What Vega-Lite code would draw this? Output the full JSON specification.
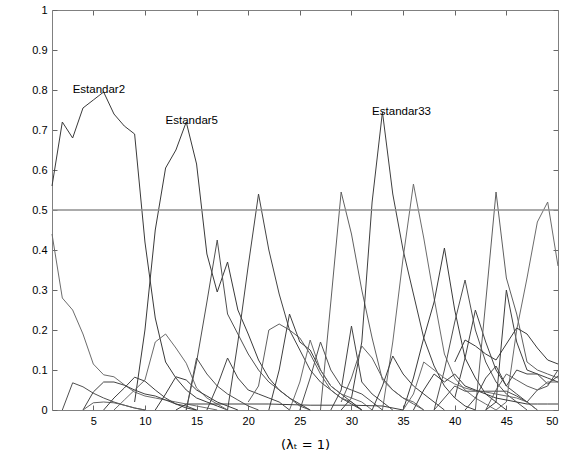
{
  "$schema": "https://vega.github.io/schema/vega-lite/v6.json",
  "width": 506,
  "height": 400,
  "autosize": "none",
  "padding": {"left": 52, "top": 10, "right": 8, "bottom": 52},
  "background": "white",
  "config": {
    "view": {"stroke": null},
    "axis": {
      "grid": false,
      "labelFont": "Liberation Sans",
      "labelFontSize": 11,
      "labelColor": "#000000",
      "tickColor": "#666666",
      "domainColor": "#808080",
      "tickSize": -5,
      "labelPadding": 10
    }
  },
  "layer": [
    {
      "data": {
        "values": [
          {"s":"A","x":1,"y":0.56},{"s":"A","x":2,"y":0.72},{"s":"A","x":3,"y":0.68},{"s":"A","x":4,"y":0.755},{"s":"A","x":5,"y":0.775},{"s":"A","x":6,"y":0.795},{"s":"A","x":7,"y":0.74},{"s":"A","x":8,"y":0.71},{"s":"A","x":9,"y":0.69},{"s":"A","x":10,"y":0.42},{"s":"A","x":11,"y":0.23},{"s":"A","x":12,"y":0.12},{"s":"A","x":13,"y":0.08},{"s":"A","x":14,"y":0.05},{"s":"A","x":15,"y":0.03},{"s":"A","x":16,"y":0.02},{"s":"A","x":17,"y":0.01},{"s":"A","x":18,"y":0},
          {"s":"B","x":1,"y":0.44},{"s":"B","x":2,"y":0.28},{"s":"B","x":3,"y":0.25},{"s":"B","x":4,"y":0.19},{"s":"B","x":5,"y":0.115},{"s":"B","x":6,"y":0.088},{"s":"B","x":7,"y":0.083},{"s":"B","x":8,"y":0.063},{"s":"B","x":9,"y":0.045},{"s":"B","x":10,"y":0.035},{"s":"B","x":11,"y":0.03},{"s":"B","x":12,"y":0.025},{"s":"B","x":13,"y":0.02},{"s":"B","x":14,"y":0.015},{"s":"B","x":15,"y":0.01},{"s":"B","x":16,"y":0.005},{"s":"B","x":17,"y":0},
          {"s":"C","x":9,"y":0.02},{"s":"C","x":10,"y":0.2},{"s":"C","x":11,"y":0.45},{"s":"C","x":12,"y":0.605},{"s":"C","x":13,"y":0.65},{"s":"C","x":14,"y":0.72},{"s":"C","x":15,"y":0.615},{"s":"C","x":16,"y":0.39},{"s":"C","x":17,"y":0.295},{"s":"C","x":18,"y":0.37},{"s":"C","x":19,"y":0.25},{"s":"C","x":20,"y":0.19},{"s":"C","x":21,"y":0.125},{"s":"C","x":22,"y":0.08},{"s":"C","x":23,"y":0.05},{"s":"C","x":24,"y":0.03},{"s":"C","x":25,"y":0.015},{"s":"C","x":26,"y":0},
          {"s":"D","x":14,"y":0},{"s":"D","x":15,"y":0.12},{"s":"D","x":16,"y":0.27},{"s":"D","x":17,"y":0.425},{"s":"D","x":18,"y":0.24},{"s":"D","x":19,"y":0.19},{"s":"D","x":20,"y":0.14},{"s":"D","x":21,"y":0.1},{"s":"D","x":22,"y":0.07},{"s":"D","x":23,"y":0.05},{"s":"D","x":24,"y":0.03},{"s":"D","x":25,"y":0.01},{"s":"D","x":26,"y":0},
          {"s":"E","x":18,"y":0},{"s":"E","x":19,"y":0.17},{"s":"E","x":20,"y":0.36},{"s":"E","x":21,"y":0.54},{"s":"E","x":22,"y":0.4},{"s":"E","x":23,"y":0.29},{"s":"E","x":24,"y":0.2},{"s":"E","x":25,"y":0.15},{"s":"E","x":26,"y":0.1},{"s":"E","x":27,"y":0.07},{"s":"E","x":28,"y":0.05},{"s":"E","x":29,"y":0.03},{"s":"E","x":30,"y":0.015},{"s":"E","x":31,"y":0},
          {"s":"F","x":27,"y":0},{"s":"F","x":28,"y":0.27},{"s":"F","x":29,"y":0.545},{"s":"F","x":30,"y":0.44},{"s":"F","x":31,"y":0.3},{"s":"F","x":32,"y":0.18},{"s":"F","x":33,"y":0.075},{"s":"F","x":34,"y":0.05},{"s":"F","x":35,"y":0.03},{"s":"F","x":36,"y":0.015},{"s":"F","x":37,"y":0},
          {"s":"G","x":29,"y":0},{"s":"G","x":30,"y":0.03},{"s":"G","x":31,"y":0.17},{"s":"G","x":32,"y":0.52},{"s":"G","x":33,"y":0.745},{"s":"G","x":34,"y":0.54},{"s":"G","x":35,"y":0.4},{"s":"G","x":36,"y":0.29},{"s":"G","x":37,"y":0.18},{"s":"G","x":38,"y":0.11},{"s":"G","x":39,"y":0.06},{"s":"G","x":40,"y":0.03},{"s":"G","x":41,"y":0.01},{"s":"G","x":42,"y":0},
          {"s":"H","x":33,"y":0},{"s":"H","x":34,"y":0.17},{"s":"H","x":35,"y":0.38},{"s":"H","x":36,"y":0.565},{"s":"H","x":37,"y":0.43},{"s":"H","x":38,"y":0.28},{"s":"H","x":39,"y":0.14},{"s":"H","x":40,"y":0.08},{"s":"H","x":41,"y":0.05},{"s":"H","x":42,"y":0.03},{"s":"H","x":43,"y":0.015},{"s":"H","x":44,"y":0},
          {"s":"I","x":35,"y":0},{"s":"I","x":36,"y":0.08},{"s":"I","x":37,"y":0.18},{"s":"I","x":38,"y":0.27},{"s":"I","x":39,"y":0.405},{"s":"I","x":40,"y":0.25},{"s":"I","x":41,"y":0.13},{"s":"I","x":42,"y":0.08},{"s":"I","x":43,"y":0.04},{"s":"I","x":44,"y":0.02},{"s":"I","x":45,"y":0},
          {"s":"J","x":38,"y":0},{"s":"J","x":39,"y":0.1},{"s":"J","x":40,"y":0.22},{"s":"J","x":41,"y":0.325},{"s":"J","x":42,"y":0.2},{"s":"J","x":43,"y":0.12},{"s":"J","x":44,"y":0.07},{"s":"J","x":45,"y":0.04},{"s":"J","x":46,"y":0.02},{"s":"J","x":47,"y":0},
          {"s":"K","x":40,"y":0.03},{"s":"K","x":41,"y":0.13},{"s":"K","x":42,"y":0.25},{"s":"K","x":43,"y":0.17},{"s":"K","x":44,"y":0.1},{"s":"K","x":45,"y":0.06},{"s":"K","x":46,"y":0.04},{"s":"K","x":47,"y":0.02},{"s":"K","x":48,"y":0},
          {"s":"L","x":42,"y":0},{"s":"L","x":43,"y":0.27},{"s":"L","x":44,"y":0.545},{"s":"L","x":45,"y":0.33},{"s":"L","x":46,"y":0.24},{"s":"L","x":47,"y":0.12},{"s":"L","x":48,"y":0.1},{"s":"L","x":49,"y":0.09},{"s":"L","x":50,"y":0.08},
          {"s":"M","x":43,"y":0},{"s":"M","x":44,"y":0.02},{"s":"M","x":45,"y":0.3},{"s":"M","x":46,"y":0.17},{"s":"M","x":47,"y":0.1},{"s":"M","x":48,"y":0.09},{"s":"M","x":49,"y":0.08},{"s":"M","x":50,"y":0.07},
          {"s":"N","x":44,"y":0},{"s":"N","x":45,"y":0.02},{"s":"N","x":46,"y":0.2},{"s":"N","x":47,"y":0.33},{"s":"N","x":48,"y":0.47},{"s":"N","x":49,"y":0.52},{"s":"N","x":50,"y":0.36},
          {"s":"O","x":40,"y":0.12},{"s":"O","x":41,"y":0.175},{"s":"O","x":42,"y":0.16},{"s":"O","x":43,"y":0.14},{"s":"O","x":44,"y":0.125},{"s":"O","x":45,"y":0.165},{"s":"O","x":46,"y":0.205},{"s":"O","x":47,"y":0.19},{"s":"O","x":48,"y":0.155},{"s":"O","x":49,"y":0.125},{"s":"O","x":50,"y":0.115},
          {"s":"P","x":2,"y":0},{"s":"P","x":3,"y":0.068},{"s":"P","x":4,"y":0.058},{"s":"P","x":5,"y":0.042},{"s":"P","x":6,"y":0.03},{"s":"P","x":7,"y":0.02},{"s":"P","x":8,"y":0.012},{"s":"P","x":9,"y":0.005},{"s":"P","x":10,"y":0},
          {"s":"Q","x":4,"y":0},{"s":"Q","x":5,"y":0.045},{"s":"Q","x":6,"y":0.07},{"s":"Q","x":7,"y":0.07},{"s":"Q","x":8,"y":0.062},{"s":"Q","x":9,"y":0.05},{"s":"Q","x":10,"y":0.04},{"s":"Q","x":11,"y":0.035},{"s":"Q","x":12,"y":0.025},{"s":"Q","x":13,"y":0.015},{"s":"Q","x":14,"y":0.01},{"s":"Q","x":15,"y":0},
          {"s":"R","x":4,"y":0},{"s":"R","x":5,"y":0.018},{"s":"R","x":6,"y":0.02},{"s":"R","x":7,"y":0.018},{"s":"R","x":8,"y":0.012},{"s":"R","x":9,"y":0.005},{"s":"R","x":10,"y":0},
          {"s":"S","x":6,"y":0},{"s":"S","x":7,"y":0.03},{"s":"S","x":8,"y":0.055},{"s":"S","x":9,"y":0.082},{"s":"S","x":10,"y":0.072},{"s":"S","x":11,"y":0.05},{"s":"S","x":12,"y":0.03},{"s":"S","x":13,"y":0.015},{"s":"S","x":14,"y":0.005},{"s":"S","x":15,"y":0},
          {"s":"T","x":7,"y":0},{"s":"T","x":8,"y":0.025},{"s":"T","x":9,"y":0.05},{"s":"T","x":10,"y":0.075},{"s":"T","x":11,"y":0.17},{"s":"T","x":12,"y":0.19},{"s":"T","x":13,"y":0.155},{"s":"T","x":14,"y":0.117},{"s":"T","x":15,"y":0.055},{"s":"T","x":16,"y":0.03},{"s":"T","x":17,"y":0.015},{"s":"T","x":18,"y":0},
          {"s":"U","x":11,"y":0},{"s":"U","x":12,"y":0.04},{"s":"U","x":13,"y":0.083},{"s":"U","x":14,"y":0.075},{"s":"U","x":15,"y":0.05},{"s":"U","x":16,"y":0.035},{"s":"U","x":17,"y":0.02},{"s":"U","x":18,"y":0.01},{"s":"U","x":19,"y":0},
          {"s":"V","x":14,"y":0},{"s":"V","x":15,"y":0.13},{"s":"V","x":16,"y":0.09},{"s":"V","x":17,"y":0.06},{"s":"V","x":18,"y":0.04},{"s":"V","x":19,"y":0.025},{"s":"V","x":20,"y":0.01},{"s":"V","x":21,"y":0},
          {"s":"W","x":16,"y":0},{"s":"W","x":17,"y":0.06},{"s":"W","x":18,"y":0.13},{"s":"W","x":19,"y":0.08},{"s":"W","x":20,"y":0.05},{"s":"W","x":21,"y":0.04},{"s":"W","x":22,"y":0.03},{"s":"W","x":23,"y":0.02},{"s":"W","x":24,"y":0},
          {"s":"X","x":20,"y":0.02},{"s":"X","x":21,"y":0.06},{"s":"X","x":22,"y":0.2},{"s":"X","x":23,"y":0.215},{"s":"X","x":24,"y":0.2},{"s":"X","x":25,"y":0.18},{"s":"X","x":26,"y":0.14},{"s":"X","x":27,"y":0.09},{"s":"X","x":28,"y":0.05},{"s":"X","x":29,"y":0.03},{"s":"X","x":30,"y":0.02},{"s":"X","x":31,"y":0},
          {"s":"Y","x":22,"y":0},{"s":"Y","x":23,"y":0.1},{"s":"Y","x":24,"y":0.24},{"s":"Y","x":25,"y":0.17},{"s":"Y","x":26,"y":0.15},{"s":"Y","x":27,"y":0.1},{"s":"Y","x":28,"y":0.06},{"s":"Y","x":29,"y":0.04},{"s":"Y","x":30,"y":0.02},{"s":"Y","x":31,"y":0},
          {"s":"Z","x":24,"y":0},{"s":"Z","x":25,"y":0.07},{"s":"Z","x":26,"y":0.175},{"s":"Z","x":27,"y":0.1},{"s":"Z","x":28,"y":0.06},{"s":"Z","x":29,"y":0.04},{"s":"Z","x":30,"y":0.03},{"s":"Z","x":31,"y":0.02},{"s":"Z","x":32,"y":0},
          {"s":"AA","x":25,"y":0},{"s":"AA","x":26,"y":0.08},{"s":"AA","x":27,"y":0.17},{"s":"AA","x":28,"y":0.1},{"s":"AA","x":29,"y":0.06},{"s":"AA","x":30,"y":0.05},{"s":"AA","x":31,"y":0.04},{"s":"AA","x":32,"y":0.02},{"s":"AA","x":33,"y":0},
          {"s":"AB","x":28,"y":0},{"s":"AB","x":29,"y":0.05},{"s":"AB","x":30,"y":0.21},{"s":"AB","x":31,"y":0.07},{"s":"AB","x":32,"y":0.04},{"s":"AB","x":33,"y":0.02},{"s":"AB","x":34,"y":0},
          {"s":"AC","x":29,"y":0.02},{"s":"AC","x":30,"y":0.08},{"s":"AC","x":31,"y":0.16},{"s":"AC","x":32,"y":0.13},{"s":"AC","x":33,"y":0.08},{"s":"AC","x":34,"y":0.05},{"s":"AC","x":35,"y":0.03},{"s":"AC","x":36,"y":0.02},{"s":"AC","x":37,"y":0},
          {"s":"AD","x":32,"y":0},{"s":"AD","x":33,"y":0.06},{"s":"AD","x":34,"y":0.135},{"s":"AD","x":35,"y":0.09},{"s":"AD","x":36,"y":0.06},{"s":"AD","x":37,"y":0.04},{"s":"AD","x":38,"y":0.02},{"s":"AD","x":39,"y":0},
          {"s":"AE","x":35,"y":0},{"s":"AE","x":36,"y":0.04},{"s":"AE","x":37,"y":0.12},{"s":"AE","x":38,"y":0.1},{"s":"AE","x":39,"y":0.08},{"s":"AE","x":40,"y":0.065},{"s":"AE","x":41,"y":0.055},{"s":"AE","x":42,"y":0.048},{"s":"AE","x":43,"y":0.045},{"s":"AE","x":44,"y":0.04},{"s":"AE","x":45,"y":0.035},{"s":"AE","x":46,"y":0.03},{"s":"AE","x":47,"y":0.02},{"s":"AE","x":48,"y":0},
          {"s":"AF","x":36,"y":0},{"s":"AF","x":37,"y":0.05},{"s":"AF","x":38,"y":0.09},{"s":"AF","x":39,"y":0.07},{"s":"AF","x":40,"y":0.09},{"s":"AF","x":41,"y":0.06},{"s":"AF","x":42,"y":0.05},{"s":"AF","x":43,"y":0.04},{"s":"AF","x":44,"y":0.03},{"s":"AF","x":45,"y":0.025},{"s":"AF","x":46,"y":0.02},{"s":"AF","x":47,"y":0.015},{"s":"AF","x":48,"y":0.015},{"s":"AF","x":49,"y":0.015},{"s":"AF","x":50,"y":0.015},
          {"s":"AG","x":38,"y":0},{"s":"AG","x":39,"y":0.03},{"s":"AG","x":40,"y":0.06},{"s":"AG","x":41,"y":0.047},{"s":"AG","x":42,"y":0.047},{"s":"AG","x":43,"y":0.047},{"s":"AG","x":44,"y":0.047},{"s":"AG","x":45,"y":0.047},{"s":"AG","x":46,"y":0.035},{"s":"AG","x":47,"y":0.02},{"s":"AG","x":48,"y":0.05},{"s":"AG","x":49,"y":0.06},{"s":"AG","x":50,"y":0.1},
          {"s":"AH","x":41,"y":0},{"s":"AH","x":42,"y":0.03},{"s":"AH","x":43,"y":0.08},{"s":"AH","x":44,"y":0.11},{"s":"AH","x":45,"y":0.06},{"s":"AH","x":46,"y":0.1},{"s":"AH","x":47,"y":0.09},{"s":"AH","x":48,"y":0.09},{"s":"AH","x":49,"y":0.065},{"s":"AH","x":50,"y":0.085},
          {"s":"AI","x":43,"y":0},{"s":"AI","x":44,"y":0.05},{"s":"AI","x":45,"y":0.09},{"s":"AI","x":46,"y":0.075},{"s":"AI","x":47,"y":0.06},{"s":"AI","x":48,"y":0.05},{"s":"AI","x":49,"y":0.07},{"s":"AI","x":50,"y":0.07},
          {"s":"AJ","x":13,"y":0},{"s":"AJ","x":14,"y":0.015},{"s":"AJ","x":18,"y":0.015},{"s":"AJ","x":22,"y":0.015},{"s":"AJ","x":26,"y":0.012},{"s":"AJ","x":30,"y":0.012},{"s":"AJ","x":33,"y":0.01},{"s":"AJ","x":35,"y":0}
        ]
      },
      "mark": {"type": "line", "strokeWidth": 1, "interpolate": "linear"},
      "encoding": {
        "x": {
          "field": "x", "type": "quantitative",
          "scale": {"domain": [1, 50], "nice": false, "zero": false},
          "axis": {"values": [5, 10, 15, 20, 25, 30, 35, 40, 45, 50], "title": "(λₜ = 1)", "titleFont": "DejaVu Sans", "titleFontSize": 13, "titleFontWeight": "normal", "titlePadding": 12, "titleColor": "#000000"}
        },
        "y": {
          "field": "y", "type": "quantitative",
          "scale": {"domain": [0, 1], "nice": false},
          "axis": {"values": [0, 0.1, 0.2, 0.3, 0.4, 0.5, 0.6, 0.7, 0.8, 0.9, 1], "format": "~g", "title": null}
        },
        "detail": {"field": "s"},
        "color": {
          "field": "s", "type": "nominal", "legend": null,
          "scale": {"range": ["#3a3a3a", "#505050", "#444444", "#606060", "#3f3f3f", "#6c6c6c"]}
        }
      }
    },
    {
      "data": {"values": [{"v": 0.5}]},
      "mark": {"type": "rule", "color": "#8f8f8f", "strokeWidth": 1.5},
      "encoding": {"y": {"field": "v", "type": "quantitative", "axis": null}}
    },
    {
      "data": {
        "values": [
          {"label": "Estandar2", "x": 3, "y": 0.8},
          {"label": "Estandar5", "x": 12, "y": 0.722},
          {"label": "Estandar33", "x": 32, "y": 0.745}
        ]
      },
      "mark": {"type": "text", "align": "left", "baseline": "middle", "font": "Liberation Sans", "fontSize": 11.5, "color": "#000000"},
      "encoding": {
        "x": {"field": "x", "type": "quantitative", "axis": {"orient": "top", "labels": false, "title": null, "values": [5, 10, 15, 20, 25, 30, 35, 40, 45, 50]}},
        "y": {"field": "y", "type": "quantitative", "axis": {"orient": "right", "labels": false, "title": null, "values": [0, 0.1, 0.2, 0.3, 0.4, 0.5, 0.6, 0.7, 0.8, 0.9, 1]}},
        "text": {"field": "label"}
      }
    }
  ],
  "resolve": {"axis": {"x": "independent", "y": "independent"}}
}
